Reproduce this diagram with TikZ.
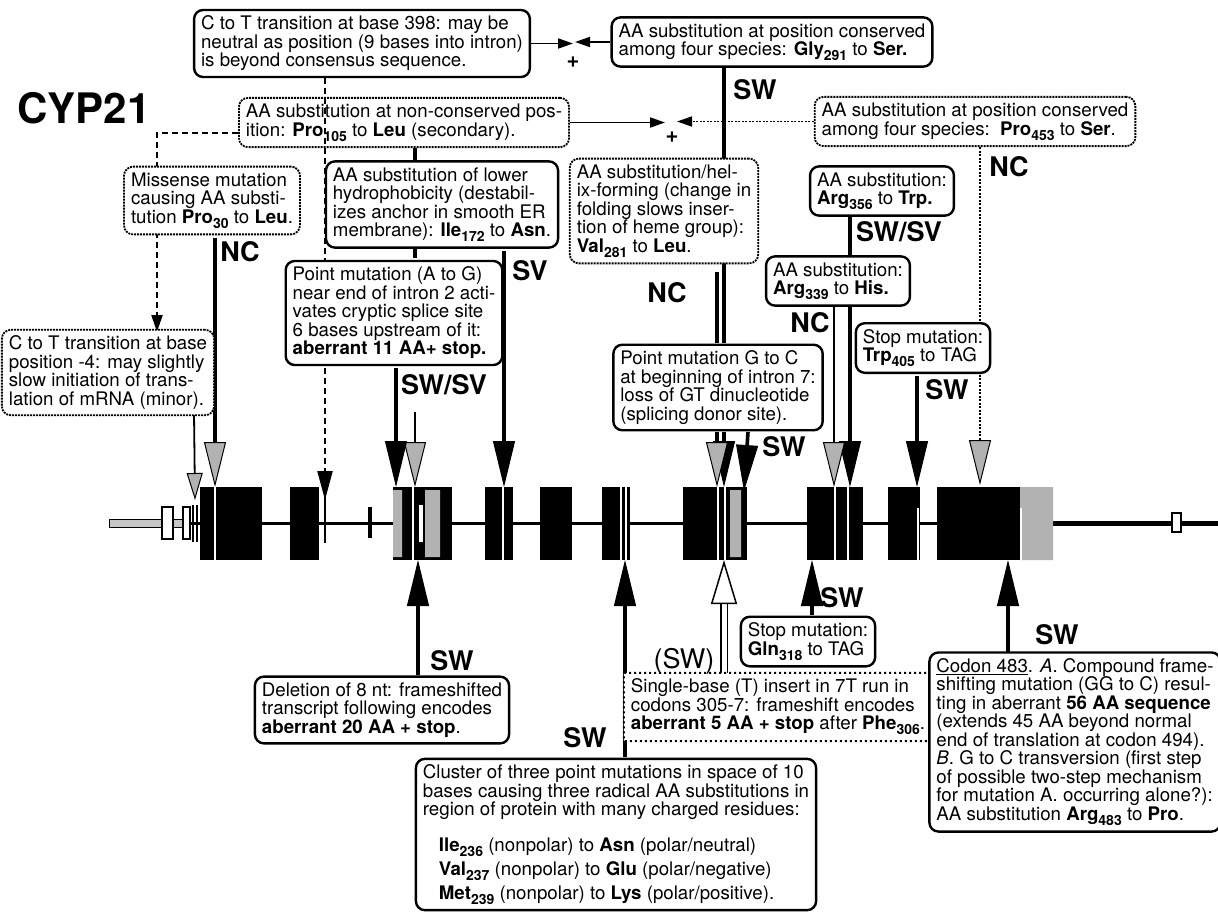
\documentclass[tikz,border=0pt]{standalone}
\usepackage{fontspec}
\setmainfont{TeX Gyre Heros}
\usetikzlibrary{arrows.meta}

\newcommand{\res}[2]{\textbf{#1\raisebox{-5pt}{\fontsize{14}{14}\selectfont #2}}}
\newcommand{\boxfont}{\fontsize{18.7}{18.5}\selectfont}
\newcommand{\labfont}{\fontsize{27}{27}\selectfont\bfseries}

\tikzset{
  box/.style={draw, line width=2.4pt, rounded corners=9pt, fill=white, align=left,
    inner xsep=7pt, inner ysep=6pt, font=\boxfont},
  dotbox/.style={box, line width=1.8pt, dash pattern=on 2pt off 1pt},
  insbox/.style={box, line width=2pt, dash pattern=on 2pt off 3pt, rounded corners=1pt},
  lab/.style={font=\labfont, inner sep=1pt},
  plus/.style={font=\fontsize{22}{22}\selectfont\bfseries, inner sep=0pt},
  heavy/.style={line width=3.6pt},
  light/.style={line width=1.8pt},
  dotline/.style={line width=1.8pt, dash pattern=on 2pt off 1.5pt},
  dashline/.style={line width=2.2pt, dash pattern=on 6pt off 4pt},
  blackhead/.style={-{Triangle[length=46pt,width=22pt,line width=1pt]}},
  stiphead/.style={-{Triangle[length=45pt,width=22pt,line width=1pt,fill=gray!60]}},
  openhead/.style={-{Triangle[length=44pt,width=26pt,line width=1.5pt,fill=white]}},
  smallhead/.style={-{Triangle[length=15pt,width=10pt]}}
}

\begin{document}
\begin{tikzpicture}[x=1pt,y=-1pt]
    \useasboundingbox (0,0) rectangle (1218,913);

    % gene map
    \draw[line width=3pt] (160,523) -- (1053,523);
    \draw[line width=5pt] (1053,523) -- (1218,523);
    \draw[line width=1pt, fill=gray!45] (109,519) rectangle (183,527);
    \draw[line width=1.5pt, fill=white] (162,507) rectangle (173,539);
    \draw[line width=1.5pt, fill=white] (183,507) rectangle (190,539);
    \draw[line width=1.2pt] (193,505) -- (193,542) (197,505) -- (197,542);
    \foreach \a/\b in {200/262, 290/319, 393/452, 485/513, 540/572, 602/630,
                       683/747, 807/863, 888/920, 937/1053}
        \fill (\a,487) rectangle (\b,560);
    \fill[gray!60] (393,490) rectangle (402,557) (425,490) rectangle (440,557)
                   (730,490) rectangle (741,557) (1020,487) rectangle (1053,560);
    \foreach \x in {215, 413, 503, 621, 626, 718, 725, 835, 848}
        \draw[white, line width=2pt] (\x,487) -- (\x,560);
    \draw[white, line width=2pt] (918,508) -- (918,560) (1021,508) -- (1021,560);
    \fill[white] (419,505) rectangle (423,542);
    \fill (368,507) rectangle (372,538);
    \draw[line width=1.2pt] (325,487) -- (325,543);
    \draw[line width=1.5pt, fill=white] (1172,513) rectangle (1181,532);

    \coordinate (tM4) at (195,500);
    \coordinate (tP30) at (215,487);
    \coordinate (t398) at (325,500);
    \coordinate (tSpl) at (396,487);
    \coordinate (s105) at (415,412);
    \coordinate (t105) at (415,487);
    \coordinate (t172) at (504,487);
    \coordinate (t281) at (717,487);
    \coordinate (t291) at (724,487);
    \coordinate (sGC) at (748,432);
    \coordinate (tGC) at (744,491);
    \coordinate (t339) at (834,487);
    \coordinate (t356) at (850,487);
    \coordinate (t405) at (917,487);
    \coordinate (t453) at (980,485);
    \coordinate (tDel) at (418,560);
    \coordinate (tCl) at (625,560);
    \coordinate (tIns) at (724,560);
    \coordinate (t318) at (812,560);
    \coordinate (t483) at (1008,560);
    \coordinate (pA) at (573,43);
    \coordinate (pB) at (575,43);
    \coordinate (pC) at (665,121);
    \coordinate (pD) at (677,121);

    \node[box] (A) at (362,43.5) {C to T transition at base 398: may be\\neutral as position (9 bases into intron)\\is beyond consensus sequence.};
    \node[box] (B) at (772,42) {AA substitution at position conserved\\among four species: \res{Gly}{291} to \textbf{Ser.}};
    \node[dotbox] (C) at (404,122.5) {AA substitution at non-conserved pos-\\ition: \res{Pro}{105} to \textbf{Leu} (secondary).};
    \node[dotbox] (D) at (975,121.5) {AA substitution at position conserved\\among four species:\ \ \res{Pro}{453} to \textbf{Ser}.};

    % connectors behind the boxes
    \draw[dashline, -{Triangle[length=29pt,width=15pt]}] (A.south -| t398) -- (t398);
    \draw[dashline, -{Triangle[length=17pt,width=11pt]}] ([yshift=-10.5pt]C.west) -| (157,332);
    \draw[light, -{Triangle[length=27pt,width=16pt,line width=1pt,fill=gray!60]}] (194,413) -- (tM4);
    \draw[heavy, stiphead] (215,238) -- (tP30);
    \draw[heavy] (C.south -| t105) -- (415,258);
    \draw[light, stiphead] (s105) -- (t105);
    \draw[heavy, blackhead] (396,368) -- (tSpl);
    \draw[heavy, blackhead] (504,251) -- (t172);
    \draw[heavy] (B.south -| t291) -- (724,343);
    \draw[heavy] (717,272) -- (717,343);
    \draw[heavy, blackhead] (sGC -| t291) -- (t291);
    \draw[heavy, stiphead] (sGC -| t281) -- (t281);
    \draw[heavy, blackhead] (sGC) -- (tGC);
    \draw[dotline, stiphead] (D.south -| t453) -- (t453);
    \draw[heavy] (850,216) -- (850,306);
    \draw[heavy, blackhead] (850,306) -- (t356);
    \draw[light, stiphead] (834,306) -- (t339);
    \draw[heavy, blackhead] (917,376) -- (t405);
    \draw[heavy, blackhead] (418,675) -- (tDel);
    \draw[heavy, blackhead] (625,757) -- (tCl);
    \draw[line width=1.5pt, double, double distance=5pt, openhead] (724,673) -- (tIns);
    \draw[heavy, blackhead] (812,615) -- (t318);
    \draw[heavy, blackhead] (1008,652) -- (t483);
    \draw[light, smallhead] (A.east) -- (A.east -| pA);
    \draw[light, smallhead] (B.west) -- (B.west -| pB);
    \draw[light, smallhead] (C.east) -- (C.east -| pC);
    \draw[dotline, smallhead] (D.west) -- (D.west -| pD);

    \node[dotbox] (E) at (212,200.5) {Missense mutation\\causing AA substi-\\tution \res{Pro}{30} to \textbf{Leu}.};
    \node[box] (F) at (442,204.5) {AA substitution of lower\\hydrophobicity (destabil-\\izes anchor in smooth ER\\membrane): \res{Ile}{172} to \textbf{Asn}.};
    \node[dotbox] (G) at (664,211) {AA substitution/hel-\\ix-forming (change in\\folding slows inser-\\tion of heme group):\\\res{Val}{281} to \textbf{Leu}.};
    \node[box] (H) at (882,191) {AA substitution:\\\res{Arg}{356} to \textbf{Trp.}};
    \node[box] (I) at (394,313) {Point mutation (A to G)\\near end of intron 2 acti-\\vates cryptic splice site\\6 bases upstream of it:\\\textbf{aberrant 11 AA+ stop.}};
    \node[box] (J) at (838,281) {AA substitution:\\\res{Arg}{339} to \textbf{His.}};
    \node[box] (K) at (923,348) {Stop mutation:\\\res{Trp}{405} to TAG};
    \node[dotbox] (L) at (108,372.5) {C to T transition at base\\position -4: may slightly\\slow initiation of trans-\\lation of mRNA (minor).};
    \node[box] (M) at (718,387.5) {Point mutation G to C\\at beginning of intron 7:\\loss of GT dinucleotide\\(splicing donor site).};
    \node[box] (N) at (382,710) {Deletion of 8 nt: frameshifted\\transcript following encodes\\\textbf{aberrant 20 AA + stop}.};
    \node[box] (O) at (808,641.5) {Stop mutation:\\\res{Gln}{318} to TAG};
    \node[insbox] (P) at (778,707) {Single-base (T) insert in 7T run in\\codons 305-7: frameshift encodes\\\textbf{aberrant 5 AA + stop} after \res{Phe}{306}.};
    \node[box] (Q) at (616,834.5) {Cluster of three point mutations in space of 10\\bases causing three radical AA substitutions in\\region of protein with many charged residues:\\[17pt]
        \hspace*{16pt}\res{Ile}{236} (nonpolar) to \textbf{Asn} (polar/neutral)\\[4pt]
        \hspace*{16pt}\res{Val}{237} (nonpolar) to \textbf{Glu} (polar/negative)\\[4pt]
        \hspace*{16pt}\res{Met}{239} (nonpolar) to \textbf{Lys} (polar/positive).};
    \node[box] (R) at (1075,742) {\underline{Codon 483}. \textit{A}. Compound frame-\\shifting mutation (GG to C) resul-\\ting in aberrant \textbf{56 AA sequence}\\(extends 45 AA beyond normal\\end of translation at codon 494).\\\textit{B}. G to C transversion (first step\\of possible two-step mechanism\\for mutation A. occurring alone?):\\AA substitution \res{Arg}{483} to \textbf{Pro}.};

    \node[font=\fontsize{42}{42}\selectfont\bfseries] (title) at (84,108) {CYP21};
    \node[plus] (plusAB) at (573,62) {+};
    \node[plus] (plusCD) at (672,137) {+};

    \node[lab] (ncE) at (240,252) {NC};
    \node[lab] (svF) at (530,271) {SV};
    \node[lab, fill=white] (swsvI) at (444,385) {SW/SV};
    \node[lab] (swB) at (755,90) {SW};
    \node[lab] (ncG) at (667,293) {NC};
    \node[lab] (swsvH) at (899,232) {SW/SV};
    \node[lab] (ncD) at (1009,167) {NC};
    \node[lab] (ncJ) at (810,323) {NC};
    \node[lab] (swK) at (947,390) {SW};
    \node[lab] (swM) at (784,447) {SW};
    \node[lab] (swO) at (842,598) {SW};
    \node[lab] (swN) at (452,661) {SW};
    \node[lab] (swQ) at (585,738) {SW};
    \node[font=\labfont\mdseries, inner sep=1pt] (swP) at (684,661) {(SW)};
    \node[lab] (swR) at (1057,635) {SW};
\end{tikzpicture}
\end{document}
